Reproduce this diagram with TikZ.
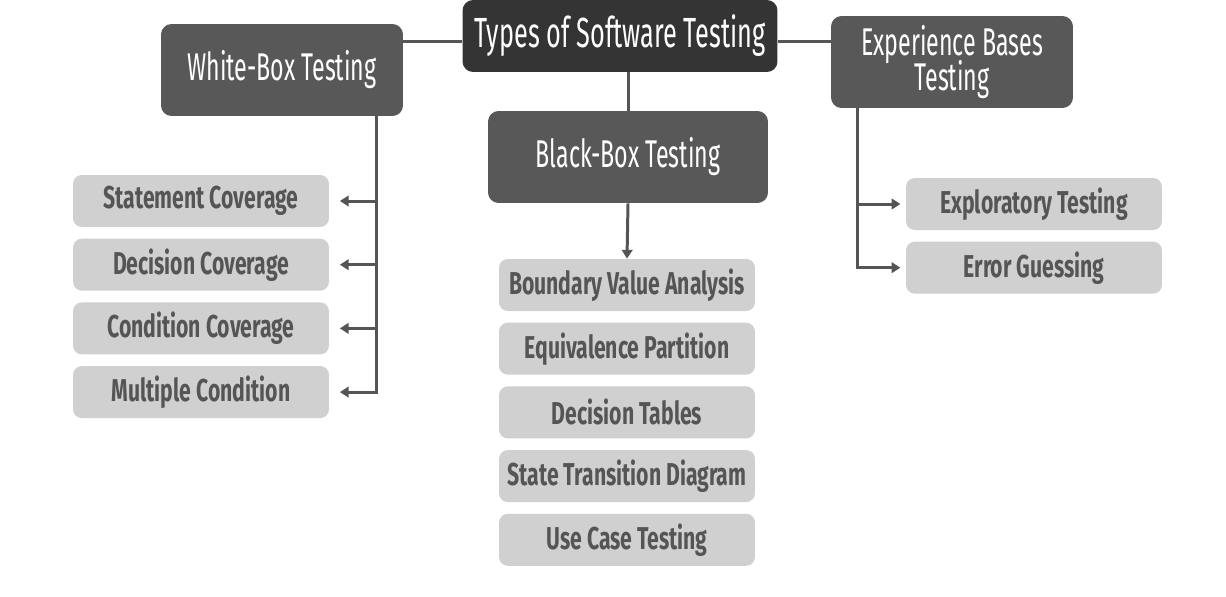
\documentclass[tikz,border=0pt]{standalone}
\usepackage{fontspec}
\setmainfont{Fira Sans}[FakeStretch=0.6]
\newfontfamily\leaffont{Fira Sans}[FakeStretch=0.67]
\usetikzlibrary{positioning}
\usetikzlibrary{arrows.meta}
\definecolor{MyDark}{RGB}{52,52,52}
\definecolor{MyMid}{RGB}{88,88,88}
\definecolor{MyLight}{RGB}{208,208,208}
\definecolor{MyLine}{RGB}{85,85,85}

\begin{document}
\begin{tikzpicture}[x=0.02cm, y=-0.02cm]
			\tikzstyle{rootbox} = [draw=none, fill=MyDark, rounded corners=6pt, minimum width=6.3cm, minimum height=1.44cm, text=white, font=\fontsize{24}{26}\selectfont]
			\tikzstyle{catbox} = [draw=none, fill=MyMid, rounded corners=6pt, minimum width=4.84cm, minimum height=1.84cm, text=white, font=\fontsize{22}{24}\selectfont, align=center]
			\tikzstyle{leaf} = [draw=none, fill=MyLight, rounded corners=5pt, minimum width=5.12cm, minimum height=1.04cm, text=MyLine, font=\fontsize{18}{20}\selectfont\leaffont\bfseries]
			\tikzstyle{line} = [draw=MyLine, line width=1.7pt]
			\tikzstyle{arr} = [line, -{Triangle[length=5pt,width=6pt]}]
			\useasboundingbox (0,0) rectangle (1226,596);

			\node[rootbox] (types) at (620,36) {Types of Software Testing};
			\node[catbox] (wb) at (282,70) {White-Box Testing};
			\node[catbox, minimum width=5.6cm] (bb) at (628,157) {Black-Box Testing};
			\node[catbox] (eb) at (952,62) {Experience Bases\\[-4pt]Testing};

			% white-box techniques
			\node[leaf] (sc) at (201,201) {Statement Coverage};
			\node[leaf] (dc) [below=0.22cm of sc] {Decision Coverage};
			\node[leaf] (cc) [below=0.22cm of dc] {Condition Coverage};
			\node[leaf] (mc) [below=0.22cm of cc] {Multiple Condition};

			% black-box techniques
			\node[leaf] (bva) at (627,285) {Boundary Value Analysis};
			\node[leaf] (ep) [below=0.22cm of bva] {Equivalence Partition};
			\node[leaf] (dt) [below=0.22cm of ep] {Decision Tables};
			\node[leaf] (st) [below=0.22cm of dt] {State Transition Diagram};
			\node[leaf] (uc) [below=0.22cm of st] {Use Case Testing};

			% experience based techniques
			\node[leaf] (et) at (1034,204) {Exploratory Testing};
			\node[leaf] (eg) [below=0.22cm of et] {Error Guessing};

			\draw[line] ([yshift=-3pt]types.west) -- ([yshift=-3pt]types.west -| wb.east);
			\draw[line] ([yshift=-3pt]types.east) -- ([yshift=-3pt]types.east -| eb.west);
			\draw[line] (bb.north) -- (bb.north |- types.south);

			\coordinate (wbx) at ([xshift=-15pt]wb.south east);
			\draw[arr, shorten >=6pt] (wbx) |- (mc.east);
			\foreach \n in {sc,dc,cc}
				\draw[arr, shorten >=6pt] (wbx |- \n.east) -- (\n.east);

			\draw[arr] (bb.south) -- (bva.north);

			\coordinate (ebx) at ([xshift=15.5pt]eb.south west);
			\draw[arr, shorten >=3pt] (ebx) |- (eg.west);
			\draw[arr, shorten >=3pt] (ebx |- et.west) -- (et.west);
	\end{tikzpicture}
\end{document}
